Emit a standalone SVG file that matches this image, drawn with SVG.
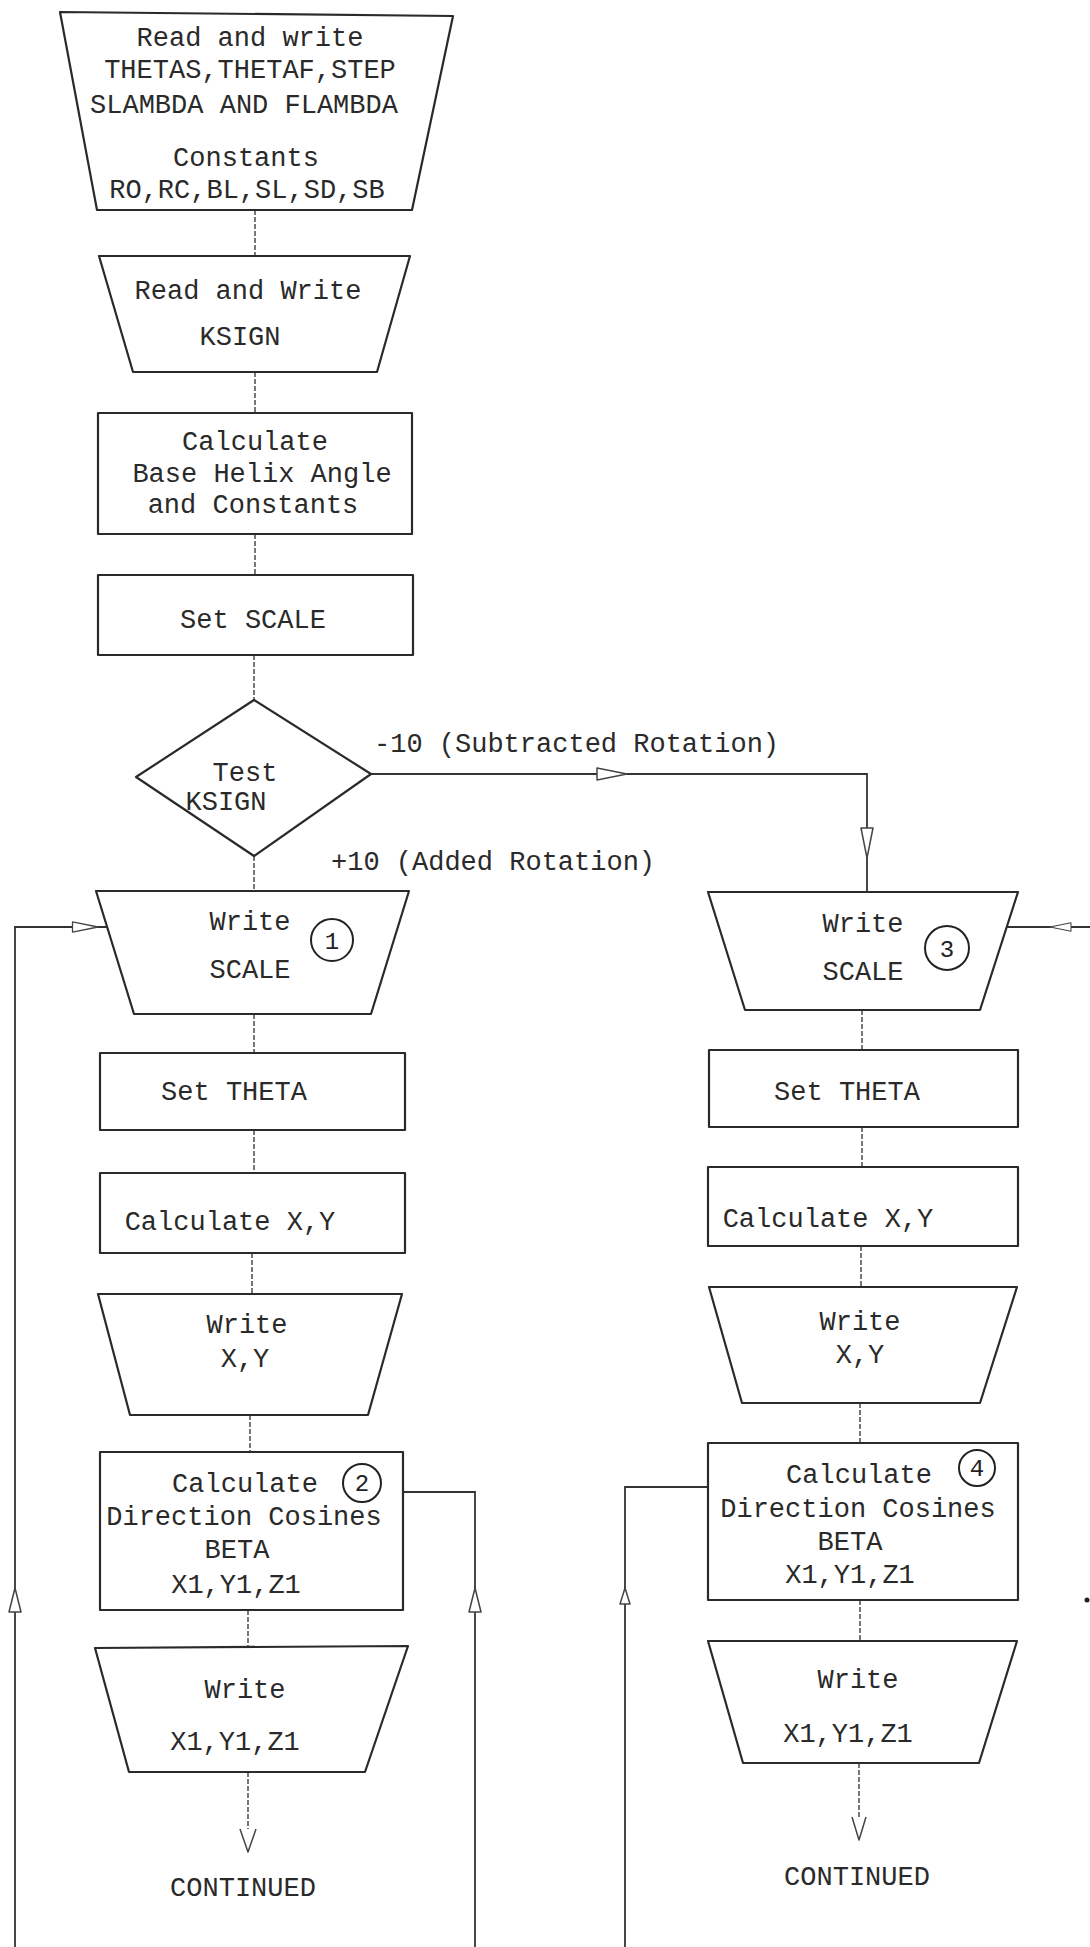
<svg xmlns="http://www.w3.org/2000/svg" xmlns:xlink="http://www.w3.org/1999/xlink" width="1090" height="1947" viewBox="0 0 1090 1947">
<style>
.n{fill:#fff;stroke:#2a2a2a;stroke-width:2.2;stroke-linejoin:round}
.t{font-family:"Liberation Mono","DejaVu Sans Mono",monospace;font-size:27px;fill:#2a2a2a;text-anchor:middle}
.l{font-family:"Liberation Mono","DejaVu Sans Mono",monospace;font-size:27px;fill:#2a2a2a}
.k{fill:none;stroke:#222;stroke-width:2}
.num{font-family:"Liberation Mono","DejaVu Sans Mono",monospace;font-size:24px;fill:#222;text-anchor:middle}
.c{fill:none;stroke:#333;stroke-width:1.8}
.d{fill:none;stroke:#555;stroke-width:1.6;stroke-dasharray:5 2}
.a{fill:#fff;stroke:#444;stroke-width:1.5;stroke-linejoin:round}
</style>
<defs>
<path id="ah" d="M0,0 L-30,-6 L-30,6 Z"/>
<path id="au" d="M0,0 L-6,24 L6,24 Z"/>
<path id="as" d="M0,0 L-5,16 L5,16 Z"/>
</defs>
<rect width="1090" height="1947" fill="#fff"/>

<g id="connectors">
<line class="d" x1="255" y1="210" x2="255" y2="256"/>
<line class="d" x1="255" y1="372" x2="255" y2="413"/>
<line class="d" x1="255" y1="534" x2="255" y2="575"/>
<line class="d" x1="254" y1="655" x2="254" y2="700"/>
<line class="d" x1="254" y1="856" x2="254" y2="891"/>
<polyline class="c" points="371,774 867,774 867,892"/>
<use href="#ah" class="a" transform="translate(627,774)"/>
<use href="#ah" class="a" transform="translate(867,858) rotate(90)"/>
<line class="d" x1="254" y1="1014" x2="254" y2="1053"/>
<line class="d" x1="254" y1="1130" x2="254" y2="1173"/>
<line class="d" x1="252" y1="1253" x2="252" y2="1294"/>
<line class="d" x1="250" y1="1415" x2="250" y2="1452"/>
<line class="d" x1="248" y1="1610" x2="248" y2="1648"/>
<line class="d" x1="248" y1="1772" x2="248" y2="1852"/>
<path class="a" d="M240,1829 L248,1852 L256,1829"/>
<polyline class="c" points="15,1947 15,927 107,927"/>
<use href="#ah" class="a" transform="translate(98,927) scale(0.85)"/>
<use href="#au" class="a" transform="translate(15,1588)"/>
<polyline class="c" points="403,1492 475,1492 475,1947"/>
<use href="#au" class="a" transform="translate(475,1588)"/>
<line class="c" x1="1090" y1="927" x2="1007" y2="927"/>
<use href="#ah" class="a" transform="translate(1050,927) rotate(180) scale(0.7)"/>
<line class="d" x1="862" y1="1010" x2="862" y2="1050"/>
<line class="d" x1="862" y1="1127" x2="862" y2="1167"/>
<line class="d" x1="861" y1="1246" x2="861" y2="1287"/>
<line class="d" x1="860" y1="1403" x2="860" y2="1443"/>
<line class="d" x1="860" y1="1600" x2="860" y2="1641"/>
<line class="d" x1="859" y1="1763" x2="859" y2="1840"/>
<path class="a" d="M852,1817 L859,1840 L866,1817"/>
<polyline class="c" points="708,1487 625,1487 625,1947"/>
<use href="#as" class="a" transform="translate(625,1588)"/>
<circle cx="1087" cy="1600" r="2.5" fill="#222"/>
</g>

<g id="label-minus">
<text class="l" x="374" y="752">-10 (Subtracted Rotation)</text>
</g>
<g id="label-plus">
<text class="l" x="331" y="870">+10 (Added Rotation)</text>
</g>

<g id="n-read-write-thetas">
<polygon class="n" points="60,12 453,16 412,210 97,210"/>
<text class="t" x="250" y="46">Read and write</text>
<text class="t" x="250" y="78">THETAS,THETAF,STEP</text>
<text class="t" x="244" y="113">SLAMBDA AND FLAMBDA</text>
<text class="t" x="246" y="166">Constants</text>
<text class="t" x="247" y="198">RO,RC,BL,SL,SD,SB</text>
</g>

<g id="n-read-ksign">
<polygon class="n" points="99,256 410,256 377,372 133,372"/>
<text class="t" x="248" y="299">Read and Write</text>
<text class="t" x="240" y="345">KSIGN</text>
</g>

<g id="n-calc-base">
<rect class="n" x="98" y="413" width="314" height="121"/>
<text class="t" x="255" y="450">Calculate</text>
<text class="t" x="262" y="482">Base Helix Angle</text>
<text class="t" x="253" y="513">and Constants</text>
</g>

<g id="n-set-scale">
<rect class="n" x="98" y="575" width="315" height="80"/>
<text class="t" x="253" y="628">Set SCALE</text>
</g>

<g id="n-test-ksign">
<polygon class="n" points="254,700 371,774 254,856 136,777"/>
<text class="t" x="245" y="781">Test</text>
<text class="t" x="226" y="810">KSIGN</text>
</g>

<g id="n-write-scale-1">
<polygon class="n" points="96,891 409,891 371,1014 134,1014"/>
<text class="t" x="250" y="930">Write</text>
<text class="t" x="250" y="978">SCALE</text>
<circle class="k" cx="332" cy="940" r="21"/>
<text class="num" x="332" y="949">1</text>
</g>

<g id="n-set-theta-1">
<rect class="n" x="100" y="1053" width="305" height="77"/>
<text class="t" x="234" y="1100">Set THETA</text>
</g>

<g id="n-calc-xy-1">
<rect class="n" x="100" y="1173" width="305" height="80"/>
<text class="t" x="230" y="1230">Calculate X,Y</text>
</g>

<g id="n-write-xy-1">
<polygon class="n" points="98,1294 402,1294 368,1415 130,1415"/>
<text class="t" x="247" y="1333">Write</text>
<text class="t" x="245" y="1367">X,Y</text>
</g>

<g id="n-calc-dir-2">
<rect class="n" x="100" y="1452" width="303" height="158"/>
<text class="t" x="245" y="1492">Calculate</text>
<circle class="k" cx="362" cy="1483" r="19"/>
<text class="num" x="362" y="1491">2</text>
<text class="t" x="244" y="1525">Direction Cosines</text>
<text class="t" x="237" y="1558">BETA</text>
<text class="t" x="236" y="1593">X1,Y1,Z1</text>
</g>

<g id="n-write-xyz-1">
<polygon class="n" points="95,1648 408,1646 365,1772 129,1772"/>
<text class="t" x="245" y="1698">Write</text>
<text class="t" x="235" y="1750">X1,Y1,Z1</text>
</g>

<g id="n-continued-1">
<text class="t" x="243" y="1896">CONTINUED</text>
</g>

<g id="n-write-scale-3">
<polygon class="n" points="708,892 1018,892 980,1010 745,1010"/>
<text class="t" x="863" y="932">Write</text>
<text class="t" x="863" y="980">SCALE</text>
<circle class="k" cx="947" cy="948" r="22"/>
<text class="num" x="947" y="957">3</text>
</g>

<g id="n-set-theta-3">
<rect class="n" x="709" y="1050" width="309" height="77"/>
<text class="t" x="847" y="1100">Set THETA</text>
</g>

<g id="n-calc-xy-3">
<rect class="n" x="708" y="1167" width="310" height="79"/>
<text class="t" x="828" y="1227">Calculate X,Y</text>
</g>

<g id="n-write-xy-3">
<polygon class="n" points="709,1287 1017,1287 980,1403 742,1403"/>
<text class="t" x="860" y="1330">Write</text>
<text class="t" x="860" y="1363">X,Y</text>
</g>

<g id="n-calc-dir-4">
<rect class="n" x="708" y="1443" width="310" height="157"/>
<text class="t" x="859" y="1483">Calculate</text>
<circle class="k" cx="977" cy="1468" r="18"/>
<text class="num" x="977" y="1476">4</text>
<text class="t" x="858" y="1517">Direction Cosines</text>
<text class="t" x="850" y="1550">BETA</text>
<text class="t" x="850" y="1583">X1,Y1,Z1</text>
</g>

<g id="n-write-xyz-3">
<polygon class="n" points="708,1641 1017,1641 979,1763 743,1763"/>
<text class="t" x="858" y="1688">Write</text>
<text class="t" x="848" y="1742">X1,Y1,Z1</text>
</g>

<g id="n-continued-3">
<text class="t" x="857" y="1885">CONTINUED</text>
</g>
</svg>
